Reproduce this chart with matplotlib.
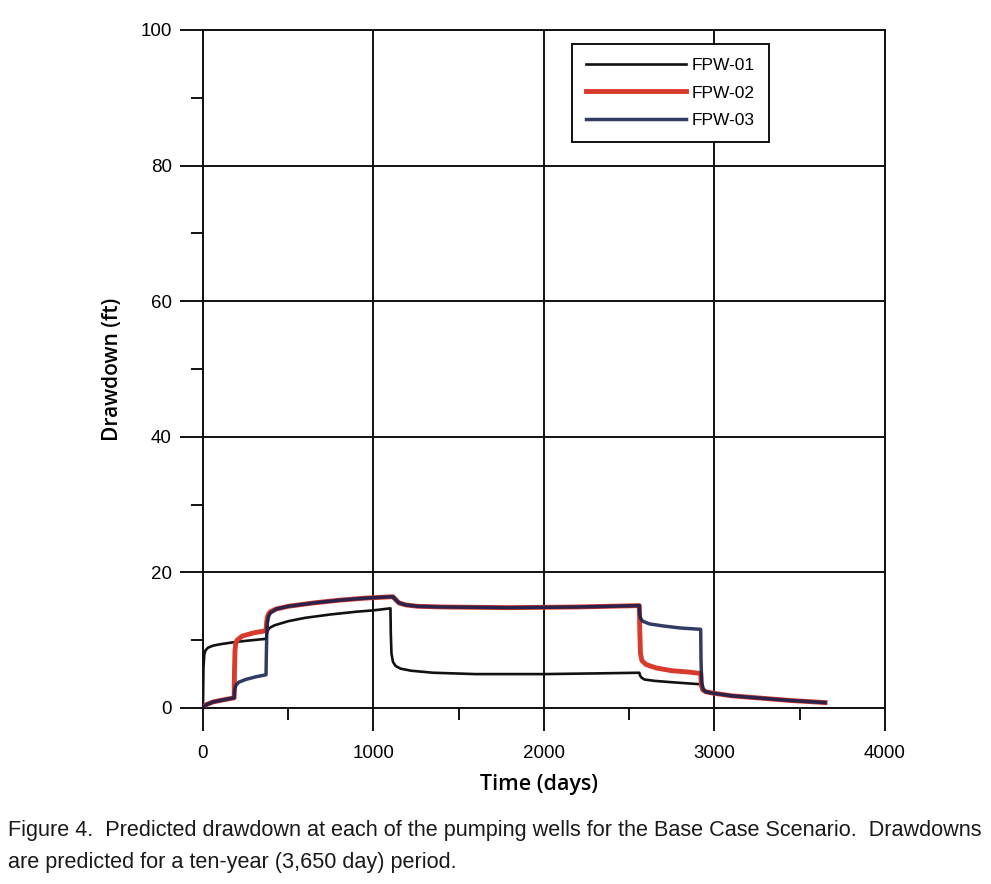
import matplotlib.pyplot as plt
from matplotlib.ticker import MultipleLocator

# FPW-01 drawdown (ft) vs time (days)
black_t = [0, 3, 8, 15, 30, 60, 100, 180, 250, 370, 374, 380, 390, 420, 500, 600, 750, 900, 1000,
           1100, 1102, 1106, 1115, 1130, 1160, 1220, 1350, 1600, 2000, 2300, 2560, 2564, 2572, 2590,
           2650, 2750, 2920, 2924, 2932, 2950, 2990, 3100, 3250, 3450, 3650]
black_v = [0, 6.0, 7.9, 8.5, 8.9, 9.2, 9.4, 9.7, 9.9, 10.2, 10.9, 11.4, 11.8, 12.2, 12.8, 13.3, 13.8, 14.2, 14.4,
           14.7, 11.0, 8.0, 6.8, 6.2, 5.8, 5.5, 5.2, 5.0, 5.0, 5.1, 5.2, 4.8, 4.5, 4.2,
           4.0, 3.8, 3.5, 2.9, 2.5, 2.3, 2.1, 1.8, 1.5, 1.1, 0.8]

# FPW-02
red_t = [0, 20, 60, 120, 183, 185, 188, 192, 200, 230, 300, 370, 373, 377, 383, 395, 430, 500, 650, 800, 950,
         1100, 1115, 1130, 1150, 1190, 1260, 1400, 1800, 2200, 2560, 2563, 2567, 2575, 2600, 2660, 2750, 2850,
         2920, 2924, 2932, 2950, 2990, 3100, 3250, 3450, 3650]
red_v = [0, 0.5, 0.9, 1.2, 1.5, 5.5, 8.5, 9.5, 10.0, 10.6, 11.1, 11.4, 12.5, 13.3, 13.8, 14.2, 14.6, 15.0, 15.5, 15.9, 16.2,
         16.4, 16.4, 16.0, 15.5, 15.2, 15.0, 14.9, 14.8, 14.9, 15.1, 11.0, 8.0, 7.0, 6.4, 5.9, 5.5, 5.3,
         5.1, 3.4, 2.7, 2.4, 2.2, 1.8, 1.5, 1.1, 0.8]

# FPW-03
blue_t = [0, 20, 60, 120, 183, 185, 189, 195, 210, 250, 310, 370, 372, 375, 379, 385, 395, 430, 500, 650, 800, 950,
          1100, 1115, 1130, 1150, 1190, 1260, 1400, 1800, 2200, 2560, 2563, 2568, 2580, 2620, 2700, 2800,
          2920, 2922, 2926, 2934, 2950, 2990, 3100, 3250, 3450, 3650]
blue_v = [0, 0.5, 0.9, 1.2, 1.5, 2.4, 3.0, 3.4, 3.8, 4.2, 4.6, 4.9, 8.0, 11.5, 12.8, 13.5, 14.0, 14.6, 15.0, 15.5, 15.9, 16.2,
          16.4, 16.4, 16.0, 15.5, 15.2, 15.0, 14.9, 14.8, 14.9, 15.1, 13.8, 13.2, 12.8, 12.4, 12.1, 11.8,
          11.6, 7.0, 3.8, 2.8, 2.4, 2.2, 1.8, 1.5, 1.1, 0.8]

well_names = ["FPW-01", "FPW-02", "FPW-03"]
caption1 = "Figure 4.  Predicted drawdown at each of the pumping wells for the Base Case Scenario.  Drawdowns"
caption2 = "are predicted for a ten-year (3,650 day) period."

fig = plt.figure(figsize=(9.91, 8.84), dpi=100)
ax = fig.add_axes([0.2048, 0.1991, 0.688, 0.767])

ax.plot(black_t, black_v, color="#111111", linewidth=1.9, label=well_names[0], zorder=3)
ax.plot(red_t, red_v, color="#d83a2c", linewidth=3.5, label=well_names[1], zorder=4)
ax.plot(blue_t, blue_v, color="#15204f", linewidth=2.5, alpha=0.88, label=well_names[2], zorder=5)

ax.set_xlim(0, 4000)
ax.set_ylim(0, 100)
ax.xaxis.set_major_locator(MultipleLocator(1000))
ax.xaxis.set_minor_locator(MultipleLocator(500))
ax.yaxis.set_major_locator(MultipleLocator(20))
ax.yaxis.set_minor_locator(MultipleLocator(10))

ax.grid(True, which="major", color="#111111", linewidth=1.4)
for s in ax.spines.values():
    s.set_linewidth(1.4)
    s.set_color("#111111")

tick_font = "Liberation Sans"
ax.tick_params(which="major", direction="out", length=16.5, width=1.4, color="#111111", labelsize=13.5)
ax.tick_params(which="minor", direction="out", length=8.5, width=1.4, color="#111111")
ax.tick_params(axis="y", which="major", pad=6)
ax.tick_params(axis="x", which="major", pad=10)
for lbl in ax.get_xticklabels() + ax.get_yticklabels():
    lbl.set_fontfamily(tick_font)

ax.set_xlabel("Time (days)", fontsize=15.5, fontfamily="Open Sans", fontweight="semibold")
ax.set_ylabel("Drawdown (ft)", fontsize=15, fontfamily="Open Sans", fontweight="semibold")
ax.xaxis.set_label_coords(0.493, -0.097)
ax.yaxis.set_label_coords(-0.118, 0.5)

leg = ax.legend(loc="upper left", bbox_to_anchor=(0.541, 0.979), borderaxespad=0,
                fancybox=False, framealpha=1, edgecolor="#111111", handlelength=5.8,
                prop={"family": tick_font, "size": 12.5}, labelspacing=0.7, borderpad=0.8,
                handletextpad=0.3)
leg.get_frame().set_linewidth(1.4)

fig.text(0.008, 0.060, caption1, fontsize=15.6, fontfamily="Liberation Sans", va="center", color="#1a1a1a")
fig.text(0.008, 0.024, caption2, fontsize=15.6, fontfamily="Liberation Sans", va="center", color="#1a1a1a")

fig.savefig("out.png", dpi=100)
